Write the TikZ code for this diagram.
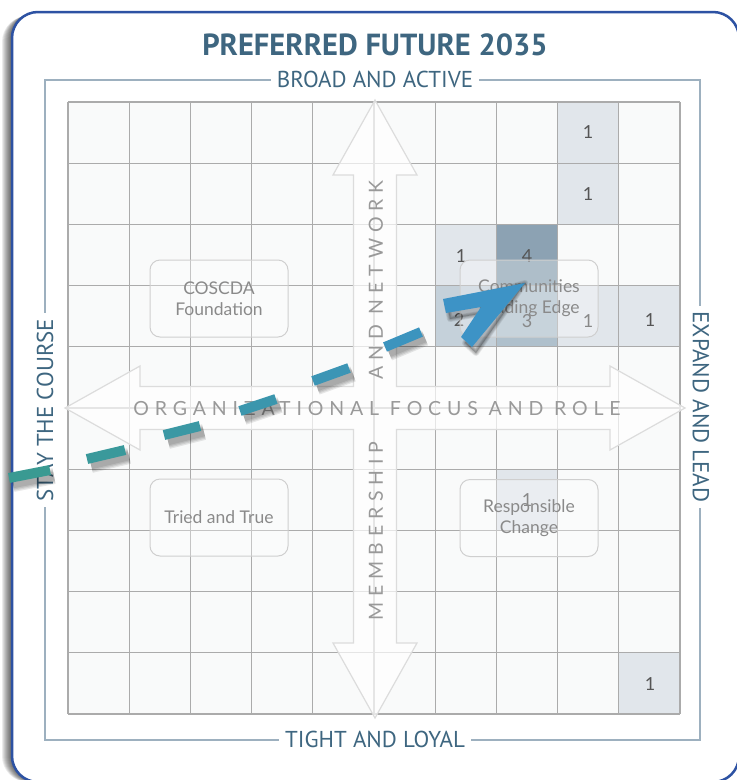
\documentclass[tikz,border=0pt]{standalone}
\usepackage{fontspec}
\setmainfont{Lato}
\newfontfamily\headfont{PT Sans}
\newfontfamily\spacedfont[LetterSpace=30]{Lato}
\usetikzlibrary{calc}

\definecolor{titleblue}{HTML}{3E6680}
\definecolor{frameblue}{HTML}{2D52A3}
\definecolor{innerline}{HTML}{9DB0BF}
\definecolor{gridgray}{HTML}{ABABAB}
\definecolor{cellbg}{HTML}{F9FAFA}
\definecolor{shadeA}{HTML}{E1E6EB}
\definecolor{shadeB}{HTML}{C5D1DA}
\definecolor{shadeC}{HTML}{AFC0CC}
\definecolor{shadeD}{HTML}{8CA2B3}
\definecolor{numgray}{HTML}{555555}
\definecolor{boxgray}{HTML}{CFCFCF}
\definecolor{labelgray}{HTML}{8A8A8A}
\definecolor{focusgray}{HTML}{999999}
\definecolor{arrowline}{HTML}{DCDCDC}
\definecolor{dashteal}{HTML}{3A9A92}
\definecolor{dashblue}{HTML}{3D93C6}

\tikzset{
	sidelabel/.style={font=\headfont\fontsize{23}{23}\selectfont, text=titleblue, fill=white, inner sep=6pt},
	cellnum/.style={font=\fontsize{18}{18}\selectfont, text=numgray},
	zonebox/.style={draw=boxgray, line width=1pt, rounded corners=10pt, fill=white, fill opacity=0.3, text opacity=1, text=labelgray, align=center, minimum width=138pt, minimum height=77pt, font=\fontsize{17.5}{21}\selectfont},
	focuslabel/.style={font=\spacedfont\fontsize{19.5}{19.5}\selectfont, text=focusgray, inner sep=0pt},
	gridline/.style={draw=gridgray, line width=1.2pt},
	dashseg/.style={line width=10pt},
}

\begin{document}
\begin{tikzpicture}[x=1pt, y=-1pt]
	\useasboundingbox (0,0) rectangle (737,780);
	\fill[white] (0,0) rectangle (737,780);

	% card with soft shadow on the left
	\foreach \k in {1,...,10}
	{
		\fill[black, opacity=0.08, rounded corners=26pt] ({12-\k},{12+0.4*\k}) rectangle (739,782);
	}
	\draw[frameblue, fill=white, line width=2.5pt, rounded corners=26pt] (12,12) rectangle (739,782);

	\node[font=\headfont\bfseries\fontsize{30.5}{30.5}\selectfont, text=titleblue] (title) at (375,45) {PREFERRED FUTURE 2035};

	% outer axis frame
	\draw[innerline, line width=1.2pt] (45,80) rectangle (700,740);

	% grid
	\fill[cellbg] (68,102) rectangle (680,714);
	\foreach \c/\r/\s in {8/0/shadeA, 8/1/shadeA, 6/2/shadeA, 7/2/shadeD, 6/3/shadeB, 7/3/shadeC, 8/3/shadeA, 9/3/shadeA, 7/6/shadeA, 9/9/shadeA}
	{
		\fill[\s] ({68+61.2*\c},{102+61.2*\r}) rectangle ++(61.2,61.2);
	}
	\foreach \k in {0,...,10}
	{
		\draw[gridline] ({68+61.2*\k},102) -- ({68+61.2*\k},714);
		\draw[gridline] (68,{102+61.2*\k}) -- (680,{102+61.2*\k});
	}

	\foreach \n/\x/\y/\v in {a/588/132/1, b/588/194/1, c/461/256/1, d/527/256/4, e/459/320/2, f/527/321/3, g/588/321/1, h/650/320/1, i/527/500/1, j/650/684/1}
	{
		\node[cellnum] (num\n) at (\x,\y) {\v};
	}

	% four-way arrow
	\draw[arrowline, line width=1.2pt, fill=white, fill opacity=0.7]
		(375,100) -- (417,175) -- (396.5,175) -- (396.5,386.5) -- (610,386.5) -- (610,366) -- (685,408)
		-- (610,450) -- (610,429.5) -- (396.5,429.5) -- (396.5,643) -- (417,643) -- (375,718)
		-- (333,643) -- (353.5,643) -- (353.5,429.5) -- (140,429.5) -- (140,450) -- (65,408)
		-- (140,366) -- (140,386.5) -- (353.5,386.5) -- (353.5,175) -- (333,175) -- cycle;

	% quadrants
	\node[zonebox] (coscda) at (219,298.5) {COSCDA\\Foundation};
	\node[zonebox] (leading) at (529,298.5) {Communities\\Leading Edge};
	\node[zonebox] (tried) at (219,517.5) {Tried and True};
	\node[zonebox] (responsible) at (529,518) {Responsible\\Change};

	\node[focuslabel] (focus) at (377,409) {ORGANIZATIONAL FOCUS AND ROLE};
	\node[focuslabel, rotate=90] (network) at (376,280) {AND NETWORK};
	\node[focuslabel, rotate=90] (member) at (376,531) {MEMBERSHIP};

	\node[sidelabel] (broad) at (375,79) {BROAD AND ACTIVE};
	\node[sidelabel] (tight) at (375,739) {TIGHT AND LOYAL};
	\node[sidelabel, rotate=90] (stay) at (45,410) {STAY THE COURSE};
	\node[sidelabel, rotate=-90] (expand) at (701,407) {EXPAND AND LEAD};

	% dashed path towards the preferred future
	\foreach \k/\sx/\sy/\ex/\ey in {0/9/478/50/470, 1/87/459/125/450, 2/164/435/200/426, 3/240/411/276/399, 4/313/381/349/368, 5/385/347/421/332}
	{
		\pgfmathtruncatemacro{\p}{\k*17}
		\coordinate (s\k) at (\sx,\sy);
		\coordinate (e\k) at (\ex,\ey);
		\foreach \m in {1,...,4}
		{
			\draw[black, opacity=0.09, line width={6+2.5*\m}] ($(s\k)+(4,6)$) -- ($(e\k)+(4,6)$);
		}
		\draw[dashseg, dashblue!\p!dashteal] (s\k) -- (e\k);
	}
	\coordinate (tip) at (525,283);
	\foreach \m in {1,...,4}
	{
		\draw[black, opacity=0.08, line width={1.5*\m}, line join=round, fill=black, fill opacity=0.05, shift={(4,6)}] (tip) -- (443,299) -- (446,313) -- (481,307) -- (461,337) -- (472,347) -- cycle;
	}
	\fill[dashblue] (tip) -- (443,299) -- (446,313) -- (481,307) -- (461,337) -- (472,347) -- cycle;
\end{tikzpicture}
\end{document}
